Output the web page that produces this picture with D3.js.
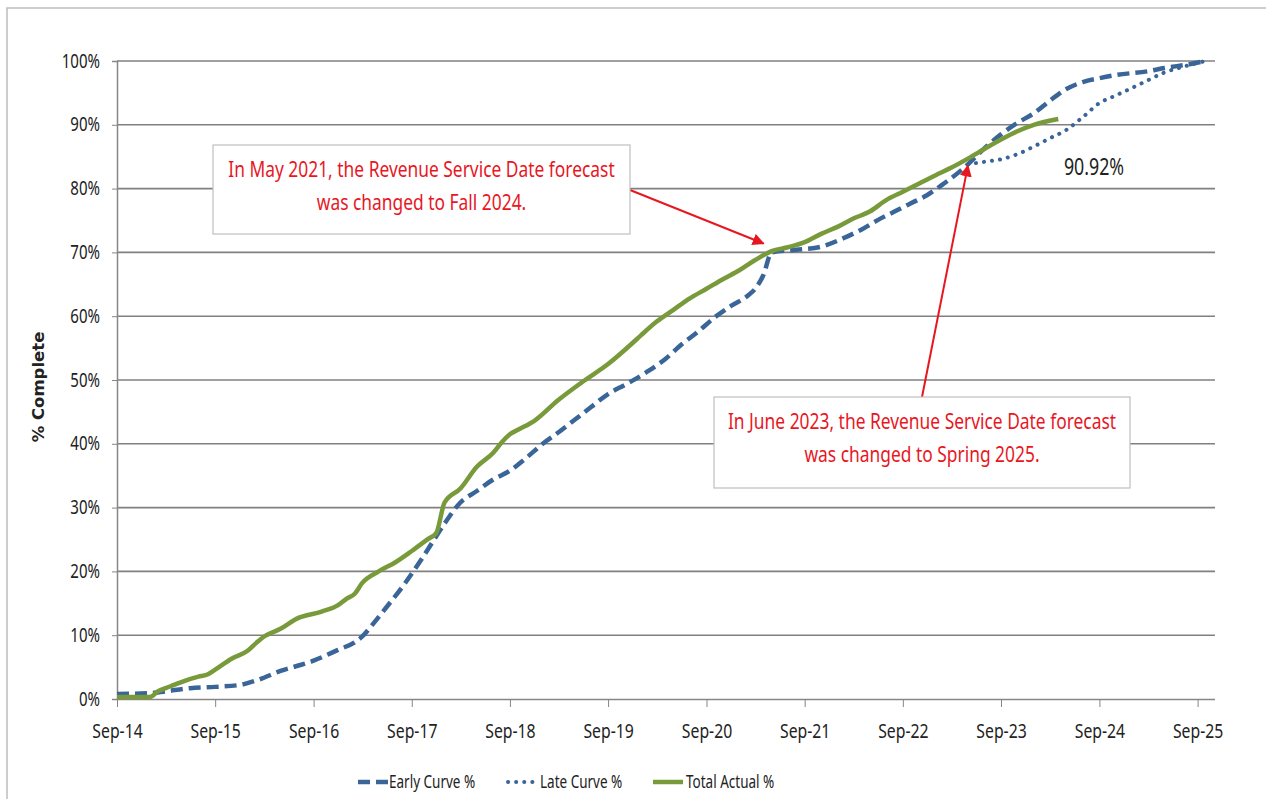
<!DOCTYPE html>
<html>
<head>
<meta charset="utf-8">
<script src="https://cdn.jsdelivr.net/npm/d3@7"></script>
<style>
  body { margin: 0; background: #fff; }
  svg { display: block; }
  .axis text { font-family: "Noto Sans", sans-serif; font-size: 19px; fill: #222; }
  .axis path, .axis line { stroke: #868686; }
</style>
</head>
<body>
<svg id="chart" width="1266" height="799"></svg>
<script>
// monthly readings, % complete
const earlyCurve = [
  ["2014-09", 0.8], ["2015-01", 0.9], ["2015-03", 1.2], ["2015-06", 1.7], ["2015-09", 1.9],
  ["2015-12", 2.2], ["2016-02", 2.9], ["2016-05", 4.4], ["2016-09", 6.0], ["2016-12", 7.7],
  ["2017-02", 8.9], ["2017-03", 9.8], ["2017-04", 11.3], ["2017-06", 14.5], ["2017-08", 17.8],
  ["2017-10", 21.5], ["2017-12", 25.5], ["2018-01", 27.5], ["2018-03", 30.8], ["2018-05", 32.6],
  ["2018-07", 34.4], ["2018-09", 35.8], ["2018-11", 37.8], ["2019-01", 40.0], ["2019-03", 41.8],
  ["2019-05", 43.8], ["2019-07", 45.8], ["2019-09", 47.8], ["2019-11", 49.2], ["2019-12", 49.9],
  ["2020-02", 51.5], ["2020-04", 53.3], ["2020-06", 55.6], ["2020-08", 57.6], ["2020-10", 59.8],
  ["2020-12", 61.6], ["2021-02", 63.2], ["2021-03", 64.3], ["2021-04", 66.5], ["2021-05", 70.0],
  ["2021-08", 70.4], ["2021-11", 70.9], ["2022-02", 72.4], ["2022-04", 73.6], ["2022-06", 75.1],
  ["2022-08", 76.4], ["2022-10", 77.7], ["2022-12", 79.0], ["2023-02", 80.8], ["2023-04", 82.7],
  ["2023-05", 83.8], ["2023-07", 86.3], ["2023-09", 88.5], ["2023-11", 90.3], ["2024-01", 91.8],
  ["2024-03", 93.8], ["2024-05", 95.6], ["2024-07", 96.7], ["2024-09", 97.3], ["2024-11", 97.8],
  ["2025-03", 98.4], ["2025-05", 98.9], ["2025-08", 99.5], ["2025-10", 100]
];

const lateCurve = [
  ["2023-05", 83.8], ["2023-07", 84.2], ["2023-09", 84.6], ["2023-11", 85.4], ["2024-01", 86.6],
  ["2024-03", 87.9], ["2024-05", 89.2], ["2024-07", 91.2], ["2024-09", 93.4], ["2024-11", 94.6],
  ["2025-01", 95.8], ["2025-03", 97.0], ["2025-05", 98.2], ["2025-07", 99.0], ["2025-09", 99.7],
  ["2025-10", 100]
];

const totalActual = [
  ["2014-09", 0.3], ["2015-01", 0.3], ["2015-02", 1.2], ["2015-03", 1.7], ["2015-04", 2.2],
  ["2015-05", 2.7], ["2015-07", 3.5], ["2015-08", 3.8], ["2015-09", 4.6], ["2015-11", 6.3],
  ["2016-01", 7.6], ["2016-02", 8.8], ["2016-03", 9.8], ["2016-05", 11.0], ["2016-07", 12.6],
  ["2016-10", 13.7], ["2016-12", 14.7], ["2017-01", 15.7], ["2017-02", 16.5], ["2017-03", 18.2],
  ["2017-05", 20.0], ["2017-07", 21.4], ["2017-09", 23.2], ["2017-11", 25.1], ["2017-12", 26.0],
  ["2018-01", 30.8], ["2018-03", 33.0], ["2018-05", 36.4], ["2018-07", 38.6], ["2018-08", 40.2],
  ["2018-09", 41.5], ["2018-10", 42.2], ["2018-12", 43.6], ["2019-03", 46.9], ["2019-06", 49.8],
  ["2019-09", 52.5], ["2019-12", 55.8], ["2020-01", 57.0], ["2020-03", 59.2], ["2020-05", 61.0],
  ["2020-07", 62.8], ["2020-09", 64.3], ["2020-11", 65.8], ["2021-01", 67.2], ["2021-03", 68.8],
  ["2021-05", 70.2], ["2021-07", 70.8], ["2021-09", 71.6], ["2021-11", 72.9], ["2022-01", 74.0],
  ["2022-03", 75.3], ["2022-05", 76.4], ["2022-07", 78.2], ["2022-09", 79.5], ["2022-11", 80.8],
  ["2023-01", 82.1], ["2023-03", 83.3], ["2023-05", 84.7], ["2023-07", 86.2], ["2023-09", 87.7],
  ["2023-11", 89.0], ["2024-01", 90.0], ["2024-04", 90.92]
];

const xTicks = ["2014-09", "2015-09", "2016-09", "2017-09", "2018-09", "2019-09",
  "2020-09", "2021-09", "2022-09", "2023-09", "2024-09", "2025-09"];
const yTicks = [0, 10, 20, 30, 40, 50, 60, 70, 80, 90, 100];

const notes = [
  { lines: ["In May 2021, the Revenue Service Date forecast", "was changed to Fall 2024."],
    tip: ["2021-04", 71.4] },
  { lines: ["In June 2023, the Revenue Service Date forecast", "was changed to Spring 2025."],
    tip: ["2023-05", 83.6] }
];

const parse = d3.timeParse("%Y-%m");
const font = '"Noto Sans", sans-serif';
const red = "#e8171f";

// squeeze text horizontally, the original uses a narrow font
function condense(sel, k) {
  sel.each(function () {
    const w = this.getComputedTextLength();
    d3.select(this)
      .attr("textLength", w * k)
      .attr("lengthAdjust", "spacingAndGlyphs");
  });
}

const svg = d3.select("#chart");
const plotLeft = 117, plotRight = 1214, plotTop = 61, plotBottom = 699;

const x = d3.scaleTime()
  .domain([parse("2014-09"), parse("2025-11")])
  .range([plotLeft, plotRight]);
const y = d3.scaleLinear().domain([0, 100]).range([plotBottom, plotTop]);

// outer frame of the chart area
svg.append("path")
  .attr("d", "M7,799 V8 H1266")
  .attr("fill", "none")
  .attr("stroke", "#bdbdbd")
  .attr("stroke-width", 1.5);

// gridlines
svg.append("g")
  .selectAll("line")
  .data(yTicks.filter((d) => d > 0))
  .enter()
  .append("line")
  .attr("x1", plotLeft)
  .attr("x2", plotRight + 1)
  .attr("y1", (d) => y(d))
  .attr("y2", (d) => y(d))
  .attr("stroke", "#808080")
  .attr("stroke-width", 1.6);

const yAxis = svg.append("g")
  .attr("class", "axis")
  .attr("transform", `translate(${plotLeft},0)`)
  .call(d3.axisLeft(y).tickValues(yTicks).tickFormat((d) => d + "%").tickSize(5).tickPadding(12));
yAxis.select(".domain").attr("stroke-width", 1.5);
yAxis.selectAll("text").call(condense, 0.79);

const xAxis = svg.append("g")
  .attr("class", "axis")
  .attr("transform", `translate(0,${plotBottom})`)
  .call(d3.axisBottom(x).tickValues(xTicks.map(parse)).tickFormat(d3.timeFormat("%b-%y")).tickSize(8).tickPadding(18));
xAxis.select(".domain").attr("d", `M${plotLeft},0.5H${plotRight + 1}`).attr("stroke-width", 1.6);
xAxis.selectAll("text").call(condense, 0.83);

// y axis label
svg.append("text")
  .attr("transform", "translate(44,387) rotate(-90)")
  .attr("text-anchor", "middle")
  .attr("font-family", '"DejaVu Sans", Verdana, sans-serif')
  .attr("font-weight", "bold")
  .attr("font-size", 16.5)
  .attr("fill", "#222")
  .text("% Complete");

const line = d3.line()
  .x((d) => x(parse(d[0])))
  .y((d) => y(d[1]))
  .curve(d3.curveMonotoneX);

const blue = "#3a6598";
const green = "#789a3a";

svg.append("path")
  .datum(lateCurve)
  .attr("d", line)
  .attr("fill", "none")
  .attr("stroke", blue)
  .attr("stroke-width", 4)
  .attr("stroke-linecap", "round")
  .attr("stroke-dasharray", "0.1,8");

svg.append("path")
  .datum(earlyCurve)
  .attr("d", line)
  .attr("fill", "none")
  .attr("stroke", blue)
  .attr("stroke-width", 4.5)
  .attr("stroke-dasharray", "12,6");

svg.append("path")
  .datum(totalActual)
  .attr("d", line)
  .attr("fill", "none")
  .attr("stroke", green)
  .attr("stroke-width", 4.5)
  .attr("stroke-linejoin", "round");

// last actual value
const last = totalActual[totalActual.length - 1];
svg.append("text")
  .attr("x", 1094)
  .attr("y", 175)
  .attr("text-anchor", "middle")
  .attr("font-family", font)
  .attr("font-size", 24)
  .attr("fill", "#222")
  .text(last[1].toFixed(2) + "%")
  .call(condense, 0.74);

// annotations
svg.append("defs")
  .append("marker")
  .attr("id", "arrow")
  .attr("viewBox", "0 0 10 10")
  .attr("refX", 9)
  .attr("refY", 5)
  .attr("markerWidth", 6)
  .attr("markerHeight", 6)
  .attr("orient", "auto")
  .append("path")
  .attr("d", "M0,0 L10,5 L0,10 z")
  .attr("fill", red);

const boxes = [
  { x: 213, y: 145, w: 417, h: 89, from: [630, 190] },
  { x: 714, y: 397, w: 416, h: 91, from: [922, 397] }
];

notes.forEach((n, i) => {
  const b = boxes[i];
  svg.append("line")
    .attr("x1", b.from[0])
    .attr("y1", b.from[1])
    .attr("x2", x(parse(n.tip[0])))
    .attr("y2", y(n.tip[1]))
    .attr("stroke", red)
    .attr("stroke-width", 2)
    .attr("marker-end", "url(#arrow)");

  svg.append("rect")
    .attr("x", b.x)
    .attr("y", b.y)
    .attr("width", b.w)
    .attr("height", b.h)
    .attr("fill", "#fff")
    .attr("stroke", "#bfbfbf")
    .attr("stroke-width", 1.2);

  n.lines.forEach((t, j) => {
    svg.append("text")
      .attr("x", b.x + b.w / 2)
      .attr("y", b.y + 32 + j * 33)
      .attr("text-anchor", "middle")
      .attr("font-family", font)
      .attr("font-size", 22)
      .attr("fill", red)
      .text(t)
      .call(condense, 0.79);
  });
});

// legend
const legend = [
  { name: "Early Curve %", x: 358, dash: "12,6", cap: "butt", w: 4.5, color: blue, tx: 389 },
  { name: "Late Curve %", x: 508, dash: "0.1,8", cap: "round", w: 4, color: blue, tx: 540 },
  { name: "Total Actual %", x: 653, dash: null, cap: "butt", w: 4.5, color: green, tx: 686 }
];

const lg = svg.append("g").attr("transform", "translate(0,782)");
legend.forEach((d) => {
  lg.append("line")
    .attr("x1", d.x)
    .attr("x2", d.x + 30)
    .attr("stroke", d.color)
    .attr("stroke-width", d.w)
    .attr("stroke-linecap", d.cap)
    .attr("stroke-dasharray", d.dash);
  lg.append("text")
    .attr("x", d.tx)
    .attr("dy", "0.35em")
    .attr("font-family", font)
    .attr("font-size", 18)
    .attr("fill", "#222")
    .text(d.name)
    .call(condense, 0.75);
});
</script>
</body>
</html>
